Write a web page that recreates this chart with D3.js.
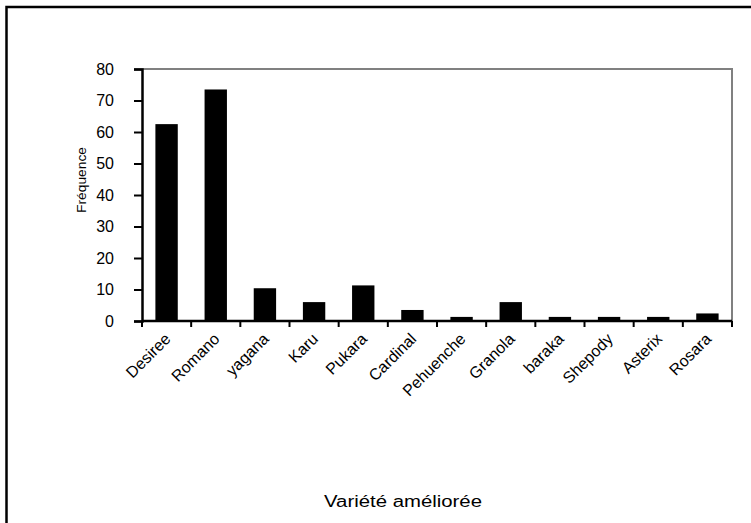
<!DOCTYPE html>
<html><head><meta charset="utf-8">
<script src="https://cdn.jsdelivr.net/npm/d3@7/dist/d3.min.js"></script>
<style>body{margin:0;background:#fff}svg{display:block}</style>
</head><body>
<script>
const categories = ["Desiree","Romano","yagana","Karu","Pukara","Cardinal","Pehuenche","Granola","baraka","Shepody","Asterix","Rosara"];
const values = [62.5, 73.5, 10.4, 6.0, 11.3, 3.5, 1.3, 6.0, 1.3, 1.3, 1.3, 2.4];
const yTicks = [0,10,20,30,40,50,60,70,80];
const xTitle = "Variété améliorée";
const yTitle = "Fréquence";

const W = 751, H = 523;
const svg = d3.select("body").append("svg").attr("width", W).attr("height", H);
svg.append("rect").attr("width", W).attr("height", H).attr("fill", "#fff");
// outer chart border
svg.append("rect").attr("x", 6.5).attr("y", 7).attr("width", 800).attr("height", 600)
  .attr("fill", "none").attr("stroke", "#000").attr("stroke-width", 2.5);

const L = 142, R = 732, T = 69, B = 321;
const x = d3.scaleBand().domain(categories).range([L, R]).paddingInner(0.545).paddingOuter(0.2725);
const xb = d3.scaleBand().domain(categories).range([L, R]);
const y = d3.scaleLinear().domain([0, 80]).range([B, T]);

// plot area border (gray top & right)
svg.append("path").attr("d", `M${L},${T}H${R}V${B}`).attr("fill", "none")
  .attr("stroke", "#808080").attr("stroke-width", 2);

svg.append("g").selectAll("rect").data(categories).join("rect")
  .attr("x", d => x(d)).attr("width", x.bandwidth())
  .attr("y", (d, i) => y(values[i])).attr("height", (d, i) => B - y(values[i]))
  .attr("fill", "#000");

// y axis
const yAxis = svg.append("g").attr("transform", `translate(${L},0)`)
  .call(d3.axisLeft(y).tickValues(yTicks).tickSize(8).tickPadding(20));
yAxis.select(".domain").attr("stroke-width", 2.5);
yAxis.selectAll(".tick line").attr("stroke-width", 2);
yAxis.selectAll("text").attr("font-family", "Liberation Sans, Arial, sans-serif").attr("font-size", 16).attr("fill", "#000");

// x axis with boundary ticks
const xAxisG = svg.append("g");
xAxisG.append("line").attr("x1", L).attr("x2", R).attr("y1", B).attr("y2", B).attr("stroke", "#000").attr("stroke-width", 2.5);
const bounds = categories.map(c => xb(c)).concat([R]);
xAxisG.selectAll("line.tk").data(bounds).join("line").attr("class", "tk")
  .attr("x1", d => d).attr("x2", d => d).attr("y1", B).attr("y2", B + 6)
  .attr("stroke", "#000").attr("stroke-width", 2);
xAxisG.selectAll("text").data(categories).join("text")
  .attr("transform", d => `translate(${xb(d) + xb.bandwidth() / 2 - 3},${B + 11}) rotate(-45)`)
  .attr("text-anchor", "end").attr("dy", "0.7em")
  .attr("font-family", "Liberation Sans, Arial, sans-serif").attr("font-size", 16).attr("fill", "#000")
  .text(d => d);

svg.append("text").attr("x", 403).attr("y", 507).attr("text-anchor", "middle")
  .attr("font-family", "Liberation Sans, Arial, sans-serif").attr("font-size", 16)
  .attr("textLength", 158).attr("lengthAdjust", "spacingAndGlyphs").text(xTitle);

svg.append("text").attr("transform", "translate(86,180) rotate(-90)").attr("text-anchor", "middle")
  .attr("font-family", "Liberation Sans, Arial, sans-serif").attr("font-size", 13)
  .attr("textLength", 66).attr("lengthAdjust", "spacingAndGlyphs").text(yTitle);
</script>
</body></html>
